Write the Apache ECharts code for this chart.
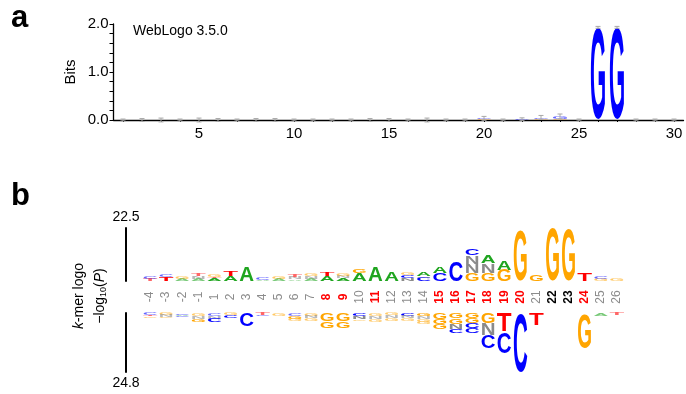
<!DOCTYPE html>
<html>
<head>
<meta charset="utf-8">
<script src="https://cdn.jsdelivr.net/npm/echarts@6/dist/echarts.min.js"></script>
<style>
  html, body { margin: 0; padding: 0; background: #fff; }
  #chart { width: 686px; height: 394px; }
</style>
</head>
<body>
<div id="chart"></div>
<script>
// ---- panel a : WebLogo ----
const posA = ['1','2','3','4','5','6','7','8','9','10','11','12','13','14','15',
  '16','17','18','19','20','21','22','23','24','25','26','27','28','29','30'];
// letters per position, bottom to top: [letter, bits]
const stacksA = [
  [], [], [], [], [], [], [], [], [], [],
  [], [], [], [], [], [], [], [], [],
  [['C', 0.015], ['G', 0.02]],
  [],
  [['G', 0.015]],
  [['C', 0.02], ['G', 0.035]],
  [['C', 0.025], ['G', 0.05]],
  [],
  [['G', 1.93]],
  [['G', 1.93]],
  [], [], []
];
const errA = [0.02, 0.03, 0.04, 0.02, 0.04, 0.03, 0.02, 0.03, 0.03, 0.02,
  0.02, 0.02, 0.02, 0.03, 0.03, 0.02, 0.04, 0.02, 0.02, 0.04,
  0.02, 0.03, 0.04, 0.05, 0.02, 0.02, 0.02, 0.02, 0.02, 0.02];

// ---- panel b : k-mer logo ----
const posB = ['-4','-3','-2','-1','1','2','3','4','5','6','7','8','9','10','11',
  '12','13','14','15','16','17','18','19','20','21','22','23','24','25','26'];
// g = grey, r = red (significant), k = black
const labelTypeB = ['g','g','g','g','g','g','g','g','g','g','g','r','r','g','r',
  'g','g','g','r','r','r','r','r','r','g','k','k','r','g','g'];
// upper logo, bottom to top: [letter, -log10(P)]
const upperB = [
  [['T', 1.0], ['C', 0.9]],
  [['T', 1.6], ['C', 0.8]],
  [['A', 0.8], ['G', 0.9]],
  [['A', 1.0], ['N', 1.0], ['T', 1.2]],
  [['A', 1.3], ['T', 0.5], ['G', 1.1]],
  [['A', 2.2], ['T', 2.0]],
  [['A', 6.0]],
  [['A', 0.6], ['C', 1.0]],
  [['A', 0.9], ['G', 1.2]],
  [['A', 0.7], ['N', 1.0], ['T', 0.9]],
  [['A', 1.0], ['N', 1.2], ['G', 0.8]],
  [['A', 2.0], ['T', 1.8]],
  [['A', 1.3], ['N', 1.0], ['G', 1.0]],
  [['A', 3.3], ['G', 1.8]],
  [['A', 6.3]],
  [['A', 3.8]],
  [['N', 1.3], ['C', 1.3], ['G', 0.9]],
  [['C', 1.4], ['N', 0.6], ['A', 1.6]],
  [['C', 3.3], ['A', 3.0]],
  [['C', 8.2]],
  [['G', 3.4], ['N', 3.8], ['N', 3.6], ['C', 3.0]],
  [['G', 3.5], ['N', 4.0], ['A', 3.5]],
  [['G', 4.8], ['A', 3.8]],
  [['G', 21.8]],
  [['G', 2.8]],
  [['G', 22.5]],
  [['G', 22.3]],
  [['T', 3.6]],
  [['G', 0.8], ['C', 1.0]],
  [['G', 1.1]]
];
// lower logo, from the centre line downward: [letter, -log10(P)]
const lowerB = [
  [['C', 0.8], ['T', 0.6], ['G', 0.7]],
  [['G', 0.8], ['N', 0.8], ['G', 0.6]],
  [['C', 0.7], ['A', 0.6], ['C', 0.6]],
  [['G', 1.2], ['N', 1.2], ['G', 1.3]],
  [['C', 1.2], ['N', 1.2], ['C', 1.4]],
  [['G', 1.0], ['C', 1.3]],
  [['C', 5.5]],
  [['T', 0.8], ['C', 0.6]],
  [['G', 1.2]],
  [['C', 1.2], ['G', 1.3], ['G', 1.0]],
  [['G', 1.2], ['N', 1.1], ['G', 1.2]],
  [['G', 3.4], ['G', 3.0]],
  [['G', 3.4], ['G', 3.0]],
  [['C', 1.3], ['N', 1.3], ['G', 0.7]],
  [['G', 1.2], ['N', 1.2], ['G', 1.2]],
  [['G', 1.0], ['N', 1.2], ['G', 1.2]],
  [['C', 1.3], ['N', 1.0], ['G', 1.2]],
  [['G', 1.3], ['N', 1.2], ['G', 1.2], ['G', 1.0]],
  [['G', 2.5], ['G', 2.2], ['G', 2.0]],
  [['G', 2.3], ['G', 2.2], ['N', 2.2], ['C', 1.8]],
  [['G', 2.2], ['G', 2.0], ['C', 2.0], ['C', 2.3]],
  [['G', 4.3], ['N', 5.2], ['C', 5.3]],
  [['T', 7.6], ['C', 9.2]],
  [['C', 24.8]],
  [['T', 5.0]],
  [],
  [],
  [['G', 14.8]],
  [['A', 1.2]],
  [['T', 1.0]]
];

const colorsA = { A: '#00a000', C: '#f08c00', G: '#0000ff', T: '#e00000', N: '#888888' };
const colorsB = { A: '#1fa51f', C: '#0000ff', G: '#ffa500', T: '#ff0000', N: '#8a8a8a' };
const labelColors = { g: '#8c8c8c', r: '#ff0000', k: '#000000' };

const FONT = '"Liberation Sans", Arial, Helvetica, sans-serif';
// glyph widths of bold 100px Liberation Sans, cap height ~72
const GW = { A: 72.2, C: 72.2, G: 77.8, T: 61.1, N: 72.2 };

function letterSeries(gi, stacks, colors, wf) {
  const data = [], letters = [];
  stacks.forEach(function (st, i) {
    let acc = 0;
    st.forEach(function (d) {
      data.push([i, acc, acc + d[1]]);
      letters.push(d[0]);
      acc += d[1];
    });
  });
  return {
    type: 'custom',
    xAxisIndex: gi,
    yAxisIndex: gi,
    silent: true,
    clip: false,
    encode: { x: 0, y: [1, 2] },
    data: data,
    renderItem: function (params, api) {
      const a = api.coord([api.value(0), api.value(1)]);
      const b = api.coord([api.value(0), api.value(2)]);
      const h = Math.abs(b[1] - a[1]);
      if (h < 0.4) return;
      const L = letters[params.dataIndex];
      const w = api.size([1, 0])[0] * wf;
      return {
        type: 'text',
        x: a[0],
        y: (a[1] + b[1]) / 2,
        scaleX: w / GW[L],
        scaleY: h / 72,
        style: {
          text: L,
          x: 0,
          y: 7.2,
          fill: colors[L],
          opacity: h < 3 ? 0.6 : 1,
          font: 'bold 100px ' + FONT,
          align: 'center',
          verticalAlign: 'middle'
        }
      };
    }
  };
}

// error bars of panel a
const errData = stacksA.map(function (st, i) {
  const top = st.reduce(function (s, d) { return s + d[1]; }, 0);
  return [i, top, errA[i]];
});

const chart = echarts.init(document.getElementById('chart'), null, { renderer: 'canvas' });

const option = {
  animation: false,
  textStyle: { fontFamily: FONT },
  graphic: [
    { type: 'text', left: 11, top: 3, style: { text: 'a', font: 'bold 31px ' + FONT, fill: '#000' } },
    { type: 'text', left: 11, top: 181, style: { text: 'b', font: 'bold 31px ' + FONT, fill: '#000' } },
    { type: 'text', x: 133, y: 31, style: { text: 'WebLogo 3.5.0', font: '14px ' + FONT, fill: '#000', verticalAlign: 'middle' } },
    {
      type: 'text', x: 79, y: 296, rotation: Math.PI / 2,
      style: {
        text: '{i|k}-mer logo', font: '14px ' + FONT, fill: '#000', align: 'center', verticalAlign: 'middle',
        rich: { i: { fontStyle: 'italic', fontSize: 14, fontFamily: FONT } }
      }
    },
    {
      type: 'text', x: 100, y: 296, rotation: Math.PI / 2,
      style: {
        text: '\u2212log{s|10}({i|P})', font: '14px ' + FONT, fill: '#000', align: 'center', verticalAlign: 'middle',
        rich: {
          s: { fontSize: 9, fontFamily: FONT, padding: [8, 0, 0, 0] },
          i: { fontStyle: 'italic', fontSize: 14, fontFamily: FONT }
        }
      }
    }
  ],
  grid: [
    { left: 113.5, top: 24, width: 570, height: 96 },
    { left: 142, top: 228, width: 483, height: 53 },
    { left: 142, top: 313, width: 483, height: 59 }
  ],
  xAxis: [
    {
      gridIndex: 0, type: 'category', data: posA, boundaryGap: true,
      axisLine: { lineStyle: { color: '#000', width: 1.3 } },
      axisTick: { show: true, interval: 0, alignWithLabel: true, length: 2, lineStyle: { color: '#000' } },
      axisLabel: {
        interval: function (i, v) { return Number(v) % 5 === 0; },
        color: '#000', fontSize: 15, margin: 6
      },
      splitLine: { show: false }
    },
    {
      gridIndex: 1, type: 'category', data: posB, boundaryGap: true,
      axisLine: { show: false }, axisTick: { show: false },
      axisLabel: {
        interval: 0, rotate: 90, align: 'center', margin: 16,
        formatter: function (v, i) { return '{' + labelTypeB[i] + '|' + v + '}'; },
        rich: {
          g: { color: labelColors.g, fontSize: 12, fontFamily: FONT },
          r: { color: labelColors.r, fontSize: 12, fontWeight: 'bold', fontFamily: FONT },
          k: { color: labelColors.k, fontSize: 12, fontWeight: 'bold', fontFamily: FONT }
        }
      },
      splitLine: { show: false }
    },
    {
      gridIndex: 2, type: 'category', data: posB, boundaryGap: true, show: false
    }
  ],
  yAxis: [
    {
      gridIndex: 0, type: 'value', min: 0, max: 2, interval: 0.2,
      name: 'Bits', nameLocation: 'middle', nameGap: 35, nameMoveOverlap: false,
      nameTextStyle: { color: '#000', fontSize: 15 },
      axisLine: { show: true, lineStyle: { color: '#000', width: 1.3 } },
      axisTick: { show: true, length: 4, lineStyle: { color: '#000' } },
      axisLabel: {
        color: '#000', fontSize: 15, margin: 5,
        formatter: function (v) { return Math.abs(v - Math.round(v)) < 1e-6 ? v.toFixed(1) : ''; }
      },
      splitLine: { show: false }
    },
    {
      gridIndex: 1, type: 'value', min: 0, max: 22.5, offset: 16,
      name: '22.5', nameLocation: 'end', nameGap: 4,
      nameTextStyle: { color: '#000', fontSize: 14, align: 'center' },
      axisLine: { show: true, lineStyle: { color: '#000', width: 2 } },
      axisTick: { show: false }, axisLabel: { show: false }, splitLine: { show: false }
    },
    {
      gridIndex: 2, type: 'value', min: 0, max: 24.8, inverse: true, offset: 16,
      name: '24.8', nameLocation: 'end', nameGap: 4,
      nameTextStyle: { color: '#000', fontSize: 14, align: 'center' },
      axisLine: { show: true, lineStyle: { color: '#000', width: 2 } },
      axisTick: { show: false }, axisLabel: { show: false }, splitLine: { show: false }
    }
  ],
  series: [
    letterSeries(0, stacksA, colorsA, 0.85),
    {
      type: 'custom', xAxisIndex: 0, yAxisIndex: 0, silent: true, clip: false,
      data: errData, encode: { x: 0, y: 1 },
      renderItem: function (params, api) {
        const c = api.coord([api.value(0), api.value(1)]);
        const lo = api.coord([api.value(0), api.value(1) - api.value(2)]);
        const hi = api.coord([api.value(0), api.value(1) + api.value(2)]);
        const st = { stroke: '#a8a8a8', lineWidth: 1 };
        return {
          type: 'group',
          children: [
            { type: 'line', shape: { x1: c[0], y1: lo[1], x2: c[0], y2: hi[1] }, style: st },
            { type: 'line', shape: { x1: c[0] - 2.5, y1: hi[1], x2: c[0] + 2.5, y2: hi[1] }, style: st },
            { type: 'line', shape: { x1: c[0] - 2.5, y1: lo[1], x2: c[0] + 2.5, y2: lo[1] }, style: st }
          ]
        };
      }
    },
    letterSeries(1, upperB, colorsB, 0.92),
    letterSeries(2, lowerB, colorsB, 0.92)
  ]
};

chart.setOption(option);
</script>
</body>
</html>
